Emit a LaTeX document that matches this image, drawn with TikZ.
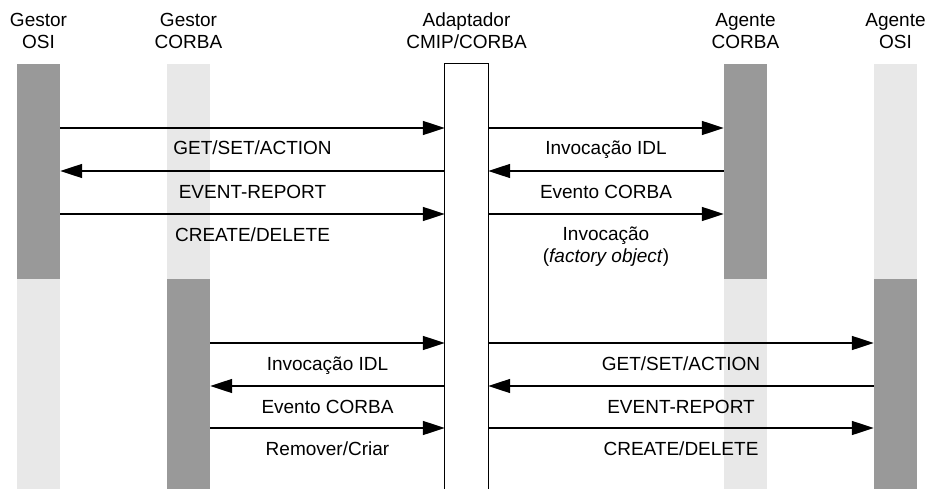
\documentclass[tikz,border=0pt]{standalone}
\usepackage{fontspec}
\setmainfont{Liberation Sans}
\usetikzlibrary{arrows.meta}
\definecolor{barDark}{RGB}{153,153,153}
\definecolor{barLight}{RGB}{232,232,232}
\begin{document}
\begin{tikzpicture}[x=1pt,y=-1pt,
      every node/.style={font=\fontsize{19}{22}\selectfont},
      bar/.style={rectangle,inner sep=0pt,minimum width=43pt},
      head/.style={align=center,anchor=base},
      msg/.style={line width=1.5pt,-{Triangle[length=22pt,width=14pt]}},
      lbl/.style={align=center,anchor=base,yshift=-27pt}]
    \useasboundingbox (0,0) rectangle (928,489);
    % rows of the messages
    \coordinate (r1) at (0,128);
    \coordinate (r2) at (0,171);
    \coordinate (r3) at (0,214);
    \coordinate (r4) at (0,343);
    \coordinate (r5) at (0,386);
    \coordinate (r6) at (0,428);
    % life lines
    \node[bar,fill=barDark,minimum height=214.5pt] (gosiA) at (38.5,171.25) {};
    \node[bar,fill=barLight,minimum height=210.5pt] (gosiB) at (38.5,383.75) {};
    \node[bar,fill=barLight,minimum height=214.5pt] (gcorbaA) at (188.5,171.25) {};
    \node[bar,fill=barDark,minimum height=210.5pt] (gcorbaB) at (188.5,383.75) {};
    \node[bar,fill=barDark,minimum height=214.5pt] (acorbaA) at (745.5,171.25) {};
    \node[bar,fill=barLight,minimum height=210.5pt] (acorbaB) at (745.5,383.75) {};
    \node[bar,fill=barLight,minimum height=214.5pt] (aosiA) at (895.5,171.25) {};
    \node[bar,fill=barDark,minimum height=210.5pt] (aosiB) at (895.5,383.75) {};
    \node[bar,minimum height=425pt] (adapt) at (466.5,276.5) {};
    \draw[line width=1pt] (adapt.south west) |- (adapt.north east) -- (adapt.south east);
    % headings
    \node[head] (hgosi) at (38.5,49) {Gestor\\OSI};
    \node[head] (hgcorba) at (188.5,49) {Gestor\\CORBA};
    \node[head] (hadapt) at (466.5,49) {Adaptador\\CMIP/CORBA};
    \node[head] (hacorba) at (745.5,49) {Agente\\CORBA};
    \node[head] (haosi) at (895.5,49) {Agente\\OSI};
    % Gestor OSI with Agente CORBA
    \draw[msg] (gosiA.east |- r1) -- node[lbl] {GET/SET/ACTION} (adapt.west |- r1);
    \draw[msg] (adapt.west |- r2) -- node[lbl] {EVENT-REPORT} (gosiA.east |- r2);
    \draw[msg] (gosiA.east |- r3) -- node[lbl] {CREATE/DELETE} (adapt.west |- r3);
    \draw[msg] (adapt.east |- r1) -- node[lbl] {Invocação IDL} (acorbaA.west |- r1);
    \draw[msg] (acorbaA.west |- r2) -- node[lbl] {Evento CORBA} (adapt.east |- r2);
    \draw[msg] (adapt.east |- r3) -- node[lbl,yshift=-21pt] {Invocação\\(\textit{factory object})} (acorbaA.west |- r3);
    % Gestor CORBA with Agente OSI
    \draw[msg] (gcorbaB.east |- r4) -- node[lbl] {Invocação IDL} (adapt.west |- r4);
    \draw[msg] (adapt.west |- r5) -- node[lbl] {Evento CORBA} (gcorbaB.east |- r5);
    \draw[msg] (gcorbaB.east |- r6) -- node[lbl] {Remover/Criar} (adapt.west |- r6);
    \draw[msg] (adapt.east |- r4) -- node[lbl] {GET/SET/ACTION} (aosiB.west |- r4);
    \draw[msg] (aosiB.west |- r5) -- node[lbl] {EVENT-REPORT} (adapt.east |- r5);
    \draw[msg] (adapt.east |- r6) -- node[lbl] {CREATE/DELETE} (aosiB.west |- r6);
  \end{tikzpicture}
\end{document}
